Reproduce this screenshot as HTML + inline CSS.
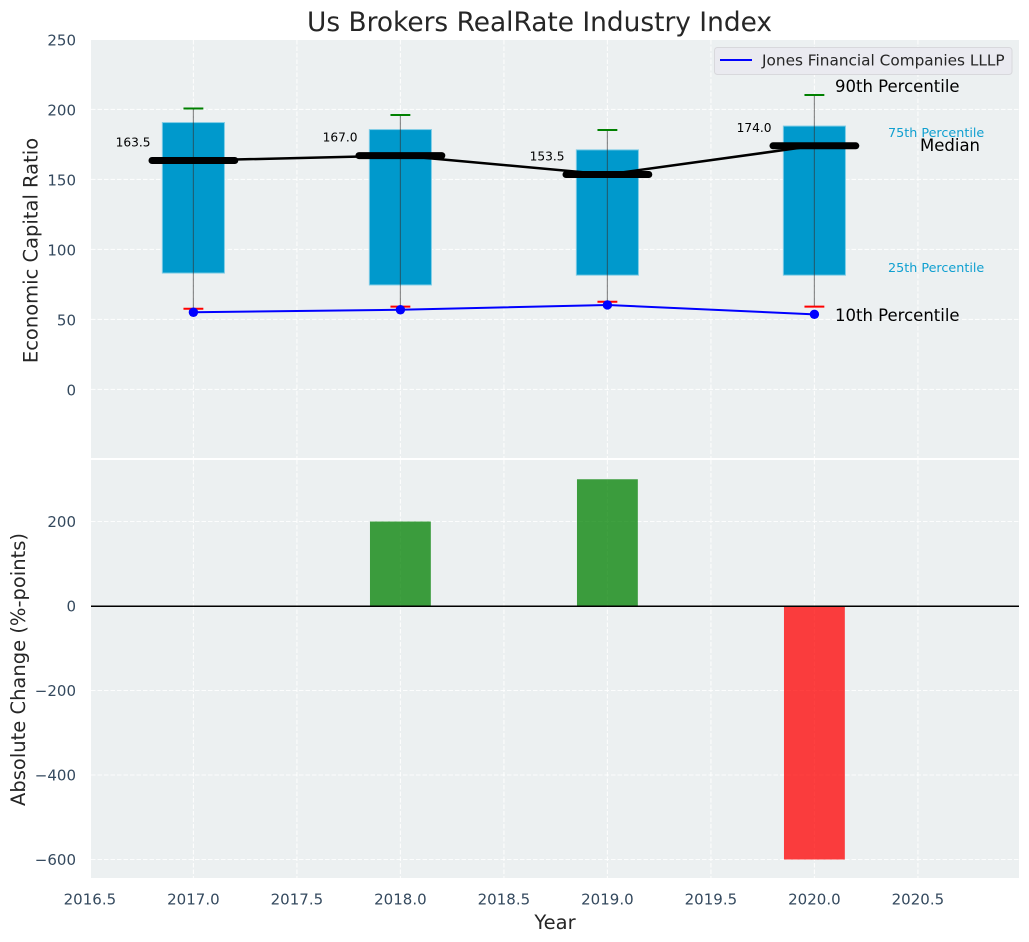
<!DOCTYPE html>
<html lang="en">
<head>
<meta charset="utf-8">
<title>Us Brokers RealRate Industry Index</title>
<style>
html,body{margin:0;padding:0;background:#fff;}
svg{display:block;font-family:"DejaVu Sans","Liberation Sans",sans-serif;}
</style>
</head>
<body>
<svg id="chart" xmlns="http://www.w3.org/2000/svg" width="1029" height="942" viewBox="0 0 1029 942">
  <text x="539.5" y="31" font-size="26.4" fill="#262626" text-anchor="middle">Us Brokers RealRate Industry Index</text>
  <rect x="91" y="40" width="928" height="418" fill="#ecf0f1"/>
  <rect x="91" y="460" width="928" height="418" fill="#ecf0f1"/>
  <g id="grid"></g>
  <g id="marks"></g>
  <g id="ticks"></g>
  <text transform="translate(37.5,250.5) rotate(-90)" font-size="19.5" fill="#262626" text-anchor="middle">Economic Capital Ratio</text>
  <text transform="translate(25,669.5) rotate(-90)" font-size="19.5" fill="#262626" text-anchor="middle">Absolute Change (%-points)</text>
  <text x="555" y="929" font-size="19.5" fill="#262626" text-anchor="middle">Year</text>
  <g>
    <rect x="714.5" y="47.5" width="297.5" height="27" rx="3" fill="#eaeaf0" stroke="#d8d8dc" stroke-width="1"/>
    <line x1="720" y1="60" x2="752" y2="60" stroke="#0000ff" stroke-width="2"/>
    <text x="762" y="65.5" font-size="15.3" fill="#262626">Jones Financial Companies LLLP</text>
  </g>
  <g font-size="16.5">
    <text x="835" y="92" fill="#000">90th Percentile</text>
    <text x="920" y="151" fill="#000">Median</text>
    <text x="835" y="321" fill="#000">10th Percentile</text>
    <text x="888" y="137" font-size="12.75" fill="#0f9fd0">75th Percentile</text>
    <text x="888" y="272" font-size="12.75" fill="#0f9fd0">25th Percentile</text>
  </g>
</svg>
<script>
const years = [2017, 2018, 2019, 2020];
const p90 = [200.6, 196, 185.3, 210.3];
const p75 = [190.6, 185.6, 171.1, 188.1];
const medians = [163.5, 167, 153.5, 174];
const p25 = [83.1, 74.6, 81.6, 81.6];
const p10 = [57.6, 59.1, 62.6, 59.1];
const company = [55.1, 56.9, 60.3, 53.6];
const absChange = [0, 200, 300, -600];
const xTicks = [2016.5, 2017, 2017.5, 2018, 2018.5, 2019, 2019.5, 2020, 2020.5];
const topYTicks = [0, 50, 100, 150, 200, 250];
const bottomYTicks = [-600, -400, -200, 0, 200];

const NS = 'http://www.w3.org/2000/svg';
const xScale = v => 193.4 + (v - 2017) * 207;
const yTop = v => 389.4 - v * 1.4;
const yBottom = v => 606 - v * 0.4225;
const gridG = document.getElementById('grid');
const marksG = document.getElementById('marks');
const ticksG = document.getElementById('ticks');

function make(parent, tag, attrs, text) {
  const el = document.createElementNS(NS, tag);
  for (const k of Object.keys(attrs)) el.setAttribute(k, attrs[k]);
  if (text !== undefined) el.textContent = text;
  parent.appendChild(el);
  return el;
}
const gridStyle = {stroke: '#fff', 'stroke-width': 1.1, 'stroke-dasharray': '4.5 2', 'stroke-opacity': 0.85};

xTicks.forEach(t => {
  const x = xScale(t);
  const a = make(gridG, 'line', {x1: x, x2: x, y1: 40, y2: 458, ...gridStyle});
  
  
  const b = make(gridG, 'line', {x1: x, x2: x, y1: 460, y2: 878, ...gridStyle});
  
  
  const l = make(ticksG, 'text', {x: x, y: 904.5, 'font-size': 15, fill: '#34495e', 'text-anchor': 'middle'}, t.toFixed(1));
  
  
});
topYTicks.forEach(t => {
  const y = yTop(t);
  const g = make(gridG, 'line', {x1: 91, x2: 1019, y1: y, y2: y, ...gridStyle});
  
  
  const l = make(ticksG, 'text', {x: 76, y: y + 6, 'font-size': 15, fill: '#34495e', 'text-anchor': 'end'}, String(t));
  
  
});
bottomYTicks.forEach(t => {
  const y = yBottom(t);
  const g = make(gridG, 'line', {x1: 91, x2: 1019, y1: y, y2: y, ...gridStyle});
  
  
  const label = t < 0 ? '\u2212' + Math.abs(t) : String(t);
  const l = make(ticksG, 'text', {x: 76, y: y + 5.5, 'font-size': 15, fill: '#34495e', 'text-anchor': 'end'}, label);
  
  
});

/* boxes */
years.forEach((yr, i) => {
  const x = xScale(yr);
  const box = make(marksG, 'rect', {x: xScale(yr - 0.15), y: yTop(p75[i]), width: xScale(yr + 0.15) - xScale(yr - 0.15), height: yTop(p25[i]) - yTop(p75[i]), fill: '#0099cc', stroke: '#7fcce5', 'stroke-width': 1});
  
  
  const w = make(marksG, 'line', {x1: x, x2: x, y1: yTop(p90[i]), y2: yTop(p10[i]), stroke: '#333', 'stroke-opacity': 0.55, 'stroke-width': 1.2});
  
  
  const c1 = make(marksG, 'line', {x1: xScale(yr - 0.048), x2: xScale(yr + 0.048), y1: yTop(p90[i]), y2: yTop(p90[i]), stroke: '#008000', 'stroke-width': 2});
  
  
  const c2 = make(marksG, 'line', {x1: xScale(yr - 0.048), x2: xScale(yr + 0.048), y1: yTop(p10[i]), y2: yTop(p10[i]), stroke: '#ff0000', 'stroke-width': 2});
  
  
});

/* median connecting line */
const medLine = make(marksG, 'polyline', {points: years.map((yr, i) => xScale(yr) + ',' + yTop(medians[i])).join(' '), fill: 'none', stroke: '#000', 'stroke-width': 2.5});



years.forEach((yr, i) => {
  const m = make(marksG, 'line', {x1: xScale(yr - 0.2), x2: xScale(yr + 0.2), y1: yTop(medians[i]), y2: yTop(medians[i]), stroke: '#000', 'stroke-width': 7, 'stroke-linecap': 'round'});
  
  
  const t = make(marksG, 'text', {x: xScale(yr - 0.2) - 1.5, y: yTop(medians[i] + 7.5) - 3.4, 'font-size': 12.2, fill: '#000', 'text-anchor': 'end'}, medians[i].toFixed(1));
  
  
});

/* company line */
const coLine = make(marksG, 'polyline', {points: years.map((yr, i) => xScale(yr) + ',' + yTop(company[i])).join(' '), fill: 'none', stroke: '#0000ff', 'stroke-width': 2});


years.forEach((yr, i) => {
  const d = make(marksG, 'circle', {cx: xScale(yr), cy: yTop(company[i]), r: 4.7, fill: '#0000ff'});
  
  
});

/* change bars */
years.forEach((yr, i) => {
  const v = absChange[i];
  if (v === 0) return;
  const top = Math.min(yBottom(v), yBottom(0));
  const b = make(marksG, 'rect', {x: xScale(yr - 0.147), y: top, width: xScale(yr + 0.147) - xScale(yr - 0.147), height: Math.abs(yBottom(v) - yBottom(0)), fill: v > 0 ? '#008000' : '#ff0000', 'fill-opacity': 0.75});
  
  
});
const zero = make(marksG, 'line', {x1: 91, x2: 1019, y1: yBottom(0) + 0.2, y2: yBottom(0) + 0.2, stroke: '#000', 'stroke-width': 1.5});


</script>
</body>
</html>
